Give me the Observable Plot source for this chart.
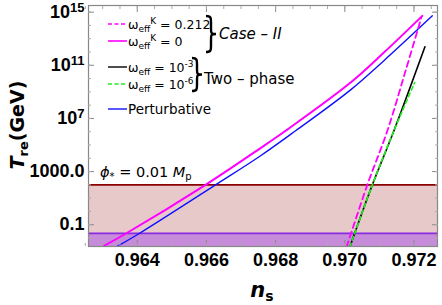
<!DOCTYPE html>
<html><head><meta charset="utf-8">
<script src="https://cdn.jsdelivr.net/npm/d3@7"></script>
<script src="https://cdn.jsdelivr.net/npm/@observablehq/plot@0.6"></script>
<style>body{margin:0;background:#fff}</style>
</head><body><div id="chart"></div>
<script>
// ---- data (n_s, log10 T_re) ----
const nsCaseK0 = [0.962988, 0.963662, 0.965975, 0.967566, 0.968289, 0.970168, 0.971131, 0.972242];
const logTCaseK0 = [-2.66, -1.68, 2.0, 4.77, 6.07, 9.70, 11.96, 14.72];
const nsCaseK212 = [0.970053, 0.970651, 0.971230, 0.971759, 0.972213];
const logTCaseK212 = [-2.66, 2.0, 6.07, 10.6, 14.59];
const nsTwo3 = [0.970148, 0.970796, 0.971420, 0.972317];
const logTTwo3 = [-2.66, 2.0, 6.07, 12.39];
const nsTwo6 = [0.970148, 0.970796, 0.971420, 0.972019];
const logTTwo6 = [-2.66, 2.0, 6.07, 9.70];
const nsPert = [0.963401, 0.964046, 0.966264, 0.967566, 0.968578, 0.970168, 0.971123, 0.972531];
const logTPert = [-2.66, -1.68, 2.0, 4.19, 6.07, 9.15, 11.33, 14.72];

const redLimit = 100;      // phi* = 0.01 Mp bound
const purpleLimit = 0.022; // lower bound
const xTicks = [0.964, 0.966, 0.968, 0.970, 0.972];
const xMinor = d3.range(0, 21).map(i => +(0.9625 + i * 0.0005).toFixed(4));
const yTicks = [1e-1, 1e3, 1e7, 1e11, 1e15];
const yTickLabels = ["0.1", "1000.0", "10^7", "10^11", "10^15"];
const yMinor = d3.range(-2, 16).map(e => 10 ** e);
const xDomain = [0.96259, 0.97268];
const yDomain = [10 ** -2.64, 10 ** 15.5];

const toRows = (ns, lt) => ns.map((n, i) => ({ns: n, T: 10 ** lt[i]}));

const tickFont = {fontFamily: "Liberation Sans, Arial, sans-serif", fontWeight: "bold", fontSize: 18};
const line = (ns, lt, o) => Plot.line(toRows(ns, lt), {x: "ns", y: "T", curve: "catmull-rom", clip: true, ...o});

const plot = Plot.plot({
  width: 442, height: 305,
  marginLeft: 88, marginRight: 5, marginTop: 5, marginBottom: 59,
  style: {background: "#fff", color: "#000"},
  x: {domain: xDomain},
  y: {type: "log", domain: yDomain},
  marks: [
    Plot.rect([0], {x1: xDomain[0], x2: xDomain[1], y1: yDomain[0], y2: redLimit, fill: "#e7c9ca"}),
    Plot.rect([0], {x1: xDomain[0], x2: xDomain[1], y1: yDomain[0], y2: purpleLimit, fill: "#c78cd9"}),
    Plot.ruleY([redLimit], {stroke: "#8b0000", strokeWidth: 1.8}),
    Plot.ruleY([purpleLimit], {stroke: "#8a2be2", strokeWidth: 1.8}),
    line(nsPert, logTPert, {stroke: "#1010ff", strokeWidth: 1.4}),
    line(nsCaseK0, logTCaseK0, {stroke: "#ff00ff", strokeWidth: 2}),
    line(nsCaseK212, logTCaseK212, {stroke: "#ff00ff", strokeWidth: 1.8, strokeDasharray: "6,4"}),
    line(nsTwo3, logTTwo3, {stroke: "#000", strokeWidth: 1.6}),
    line(nsTwo6, logTTwo6, {stroke: "#22ee22", strokeWidth: 1.6, strokeDasharray: "4,3"}),
    Plot.frame({stroke: "#888", strokeWidth: 1.2}),
    // labels
    Plot.axisX({ticks: xTicks, tickFormat: d3.format(".3f"), tickSize: 0, tickPadding: 7, label: null, ...tickFont}),
    Plot.axisY({ticks: yTicks, tickFormat: d => yTickLabels[yTicks.indexOf(d)], tickSize: 0, tickPadding: 4, label: null, ...tickFont}),
    // inward ticks
    Plot.axisX({anchor: "bottom", ticks: xTicks, tickSize: -6, text: null, label: null, stroke: "#888"}),
    Plot.axisX({anchor: "top", ticks: xTicks, tickSize: -6, text: null, label: null, stroke: "#888"}),
    Plot.axisX({anchor: "bottom", ticks: xMinor, tickSize: -3, text: null, label: null, stroke: "#aaa"}),
    Plot.axisX({anchor: "top", ticks: xMinor, tickSize: -3, text: null, label: null, stroke: "#aaa"}),
    Plot.axisY({anchor: "left", ticks: yTicks, tickSize: -6, text: null, label: null, stroke: "#888"}),
    Plot.axisY({anchor: "right", ticks: yTicks, tickSize: -6, text: null, label: null, stroke: "#888"}),
    Plot.axisY({anchor: "left", ticks: yMinor, tickSize: -3, text: null, label: null, stroke: "#aaa"}),
    Plot.axisY({anchor: "right", ticks: yMinor, tickSize: -3, text: null, label: null, stroke: "#aaa"})
  ]
});
document.getElementById("chart").append(plot);

const svg = d3.select(plot);
// superscript tick labels
svg.selectAll('g[aria-label="y-axis tick label"] text').each(function () {
  const s = this.textContent;
  if (s.includes("^")) {
    const [b, e] = s.split("^");
    const t = d3.select(this);
    t.text(null);
    t.append("tspan").text(b);
    t.append("tspan").attr("dy", "-0.45em").attr("font-size", "13").text(e);
  }
});

function rich(g, x, y, parts, attrs = {}) {
  const t = g.append("text").attr("x", x).attr("y", y);
  for (const [k, v] of Object.entries(attrs)) t.attr(k, v);
  let cur = 0;
  for (const p of parts) {
    const off = p.off || 0;
    const ts = t.append("tspan").text(p.t);
    if (off !== cur) { ts.attr("dy", off - cur); cur = off; }
    if (p.size) ts.attr("font-size", p.size);
    if (p.italic) ts.attr("font-style", "italic");
  }
  return t;
}

const xs = plot.scale("x"), ys = plot.scale("y");
const g = svg.append("g").attr("font-family", "DejaVu Sans, sans-serif").attr("font-size", 12.5)
  .attr("fill", "#000").attr("text-anchor", "start");

// legend
const L = 108, R = 127, TX = 128;
const items = [
  {y: 24, stroke: "#ff00ff", dash: "4,2.5", w: 1.6, parts: [{t: "ω"}, {t: "eff", off: 3, size: 9}, {t: "K", off: -5, size: 9}, {t: " = 0.212"}]},
  {y: 41, stroke: "#ff00ff", dash: null, w: 1.6, parts: [{t: "ω"}, {t: "eff", off: 3, size: 9}, {t: "K", off: -5, size: 9}, {t: " = 0"}]},
  {y: 67, stroke: "#000", dash: null, w: 1.4, parts: [{t: "ω"}, {t: "eff", off: 3, size: 9}, {t: " = 10"}, {t: "-3", off: -5, size: 9}]},
  {y: 84, stroke: "#22ee22", dash: "4,2.5", w: 1.4, parts: [{t: "ω"}, {t: "eff", off: 3, size: 9}, {t: " = 10"}, {t: "-6", off: -5, size: 9}]},
  {y: 109, stroke: "#1010ff", dash: null, w: 1.4, parts: [{t: "Perturbative"}], size: 13.5}
];
for (const it of items) {
  g.append("line").attr("x1", L).attr("x2", R).attr("y1", it.y).attr("y2", it.y)
    .attr("stroke", it.stroke).attr("stroke-width", it.w).attr("stroke-dasharray", it.dash);
  rich(g, TX, it.y + 5, it.parts, it.size ? {"font-size": it.size} : {});
}
function brace(x, y1, y2, w) {
  const m = (y1 + y2) / 2, h = w / 2;
  const d = `M${x},${y1} C${x + h},${y1} ${x + h},${y1 + 2} ${x + h},${y1 + 6} L${x + h},${m - 5} C${x + h},${m - 1} ${x + h},${m} ${x + w},${m}` +
            ` C${x + h},${m} ${x + h},${m + 1} ${x + h},${m + 5} L${x + h},${y2 - 6} C${x + h},${y2 - 2} ${x + h},${y2} ${x},${y2}`;
  g.append("path").attr("d", d).attr("fill", "none").attr("stroke", "#000").attr("stroke-width", 2.4);
}
brace(206, 16, 52, 10);
brace(192, 58, 91, 10);
rich(g, 219, 39, [{t: "Case – II"}], {"font-style": "italic", "font-size": 15});
rich(g, 204, 84, [{t: "Two – phase"}], {"font-size": 15});

// annotation for the phi* bound
rich(g, xs.apply(xDomain[0]) + 12, ys.apply(redLimit) - 7,
  [{t: "ϕ", italic: true}, {t: "*", off: 3, size: 10}, {t: " = 0.01 "}, {t: "M", italic: true}, {t: "p", off: 3, size: 10}],
  {"font-size": 14.5});

// axis titles
rich(g, 0, 0, [{t: "T", italic: true}, {t: "re", off: 4, size: 13}, {t: "(GeV)"}],
  {"font-size": 19, "font-weight": "bold", "text-anchor": "middle", transform: "translate(24,125) rotate(-90)"});
rich(g, 262, 297, [{t: "n", italic: true}, {t: "s", off: 4, size: 14}],
  {"font-size": 21, "font-weight": "bold", "text-anchor": "middle"});
</script>
</body></html>
